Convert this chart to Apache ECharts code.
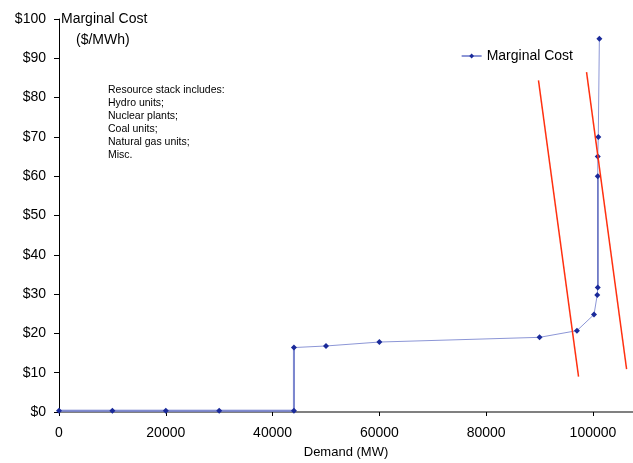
<!DOCTYPE html>
<html>
<head>
<meta charset="utf-8">
<script src="https://cdn.jsdelivr.net/npm/echarts@6/dist/echarts.min.js"></script>
<style>
  html, body { margin: 0; padding: 0; background: #fff; }
  #chart { width: 633px; height: 463px; }
</style>
</head>
<body>
<div id="chart"></div>
<script>
// Supply stack: demand (MW) vs marginal cost ($/MWh)
const demand = [0, 10000, 20000, 30000, 44000, 44000, 50000, 60000, 90000, 97000, 100200, 100800, 100900, 100900, 100900, 101000, 101200];
const cost   = [0.3, 0.3, 0.3, 0.3, 0.3, 16.4, 16.8, 17.8, 19.0, 20.7, 24.8, 29.8, 31.7, 60, 65, 70, 95];

// Two steep demand curves
const demandCurveA = [[89800, 84.4], [97300, 9.0]];
const demandCurveB = [[98800, 86.5], [106300, 10.9]];

const xTicks = [0, 20000, 40000, 60000, 80000, 100000];
const yTicks = [0, 10, 20, 30, 40, 50, 60, 70, 80, 90, 100];

const stackNotes = ['Resource stack includes:', 'Hydro units;', 'Nuclear plants;', 'Coal units;', 'Natural gas units;', 'Misc.'];

const pts = demand.map((d, i) => [d, cost[i]]);
// baseload plateau plus the jump to the gas tier
const baseSegment = pts.slice(0, 6);
// near-vertical section at full capacity
const capSegment = pts.slice(12, 14);

const font = '"Liberation Sans", Arial, sans-serif';
const chart = echarts.init(document.getElementById('chart'));

chart.setOption({
  animation: false,
  backgroundColor: '#fff',
  textStyle: { fontFamily: font },
  grid: { left: 59, top: 19, right: 0, bottom: 51, containLabel: false, outerBoundsMode: 'none' },
  legend: {
    data: ['Marginal Cost'],
    right: 55, top: 44,
    itemWidth: 20, itemHeight: 6, itemGap: 4,
    textStyle: { fontSize: 14, color: '#000', fontFamily: font }
  },
  xAxis: {
    type: 'value', min: 0, max: 107500, interval: 20000,
    name: 'Demand (MW)', nameLocation: 'middle', nameGap: 34,
    nameTextStyle: { fontSize: 13, color: '#000', fontFamily: font },
    axisLine: { lineStyle: { color: '#808080', width: 2 } },
    axisTick: { customValues: xTicks, length: 4, inside: false, lineStyle: { color: '#000' } },
    axisLabel: { customValues: xTicks, fontSize: 14, color: '#000', margin: 14, fontFamily: font, formatter: v => String(v) },
    splitLine: { show: false }
  },
  yAxis: {
    type: 'value', min: 0, max: 100, interval: 10,
    axisLine: { show: true, lineStyle: { color: '#000', width: 1 } },
    axisTick: { customValues: yTicks, length: 5, lineStyle: { color: '#000' } },
    axisLabel: { customValues: yTicks, fontSize: 14, color: '#000', margin: 13, fontFamily: font, formatter: v => '$' + v },
    splitLine: { show: false }
  },
  graphic: [
    { type: 'text', left: 61, top: 12, style: { text: 'Marginal Cost', fontSize: 14, fill: '#000', fontFamily: font } },
    { type: 'text', left: 76, top: 33, style: { text: '($/MWh)', fontSize: 14, fill: '#000', fontFamily: font } },
    { type: 'text', left: 108, top: 84, style: { text: stackNotes.join('\n'), fontSize: 10.5, lineHeight: 13, fill: '#000', fontFamily: font } }
  ],
  series: [
    {
      name: 'Marginal Cost', type: 'line', data: pts,
      symbol: 'diamond', symbolSize: 6, showSymbol: true,
      itemStyle: { color: '#1a2a9a' },
      lineStyle: { color: '#8c96d6', width: 1 },
      z: 5
    },
    {
      name: 'base', type: 'line', data: baseSegment, symbol: 'none',
      lineStyle: { color: '#6a76c6', width: 2 }, z: 4
    },
    {
      name: 'cap', type: 'line', data: capSegment, symbol: 'none',
      lineStyle: { color: '#1a2a9a', width: 1.5 }, z: 4
    },
    {
      name: 'curveA', type: 'line', data: demandCurveA, symbol: 'none',
      lineStyle: { color: '#ff3010', width: 1.5 }, z: 6
    },
    {
      name: 'curveB', type: 'line', data: demandCurveB, symbol: 'none',
      lineStyle: { color: '#ff3010', width: 1.5 }, z: 6
    }
  ]
});
</script>
</body>
</html>
